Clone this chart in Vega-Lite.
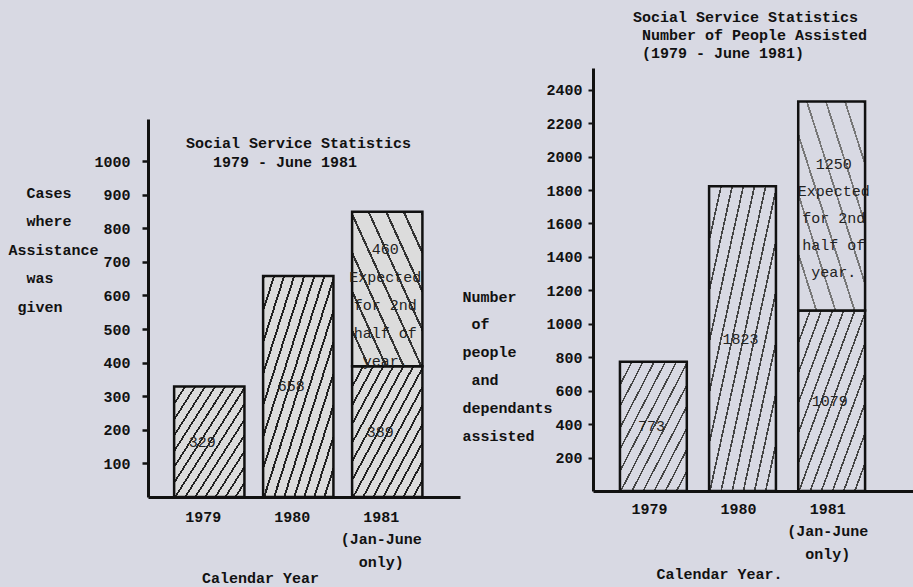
{
  "$schema": "https://vega.github.io/schema/vega-lite/v6.json",
  "padding": {"left": 8, "top": 10, "right": 0, "bottom": 10},
  "background": "#d8d9e3",
  "spacing": 2,
  "datasets": {
    "cases": [
      {"year": "1979", "part": "actual", "value": 329, "label": "329"},
      {"year": "1980", "part": "actual", "value": 658, "label": "658"},
      {"year": "1981", "part": "actual", "value": 389, "label": "389"},
      {"year": "1981", "part": "expected", "value": 460, "label": "460|Expected|for 2nd|half of|year."}
    ],
    "people": [
      {"year": "1979", "part": "actual", "value": 773, "label": "773"},
      {"year": "1980", "part": "actual", "value": 1823, "label": "1823"},
      {"year": "1981", "part": "actual", "value": 1079, "label": "1079"},
      {"year": "1981", "part": "expected", "value": 1250, "label": "1250|Expected|for 2nd|half of|year."}
    ]
  },
  "hconcat": [
    {
      "width": 312,
      "height": 429,
      "title": {
        "text": ["Social Service Statistics", "\u200b\u00a0\u00a0\u00a01979 - June 1981"],
        "anchor": "start",
        "frame": "group",
        "dx": 38,
        "offset": -102,
        "lineHeight": 19
      },
      "data": {"name": "cases"},
      "transform": [
        {"stack": "value", "groupby": ["year"], "sort": [{"field": "part", "order": "ascending"}], "as": ["v0", "v1"]}
      ],
      "encoding": {
        "x": {
          "field": "year",
          "type": "nominal",
          "sort": null,
          "scale": {"paddingInner": 0.21, "paddingOuter": 0.358, "align": 0.41},
          "axis": {
            "title": "Calendar Year",
            "labelAngle": 0,
            "ticks": false,
            "labelPadding": 12,
            "labelOffset": -6,
            "labelLineHeight": 22.5,
            "labelExpr": "datum.value == '1981' ? ['1981', '(Jan-June', 'only)'] : datum.value",
            "titleX": 112,
            "titleY": 80,
            "titleAlign": "center",
            "titleBaseline": "middle"
          }
        },
        "y": {
          "field": "v1",
          "type": "quantitative",
          "scale": {"domain": [0, 1125], "range": [429, 51], "nice": false},
          "axis": {
            "values": [100, 200, 300, 400, 500, 600, 700, 800, 900, 1000],
            "format": "d",
            "tickSize": 6,
            "tickWidth": 2.5,
            "labelPadding": 12,
            "title": ["\u200b\u00a0\u00a0Cases", "\u200b\u00a0\u00a0where", "Assistance", "\u200b\u00a0\u00a0was", "\u200b\u00a0given"],
            "titleAngle": 0,
            "titleAlign": "left",
            "titleBaseline": "top",
            "titleX": -140,
            "titleY": 117,
            "titleLineHeight": 28.5
          }
        }
      },
      "layer": [
        {
          "transform": [{"filter": "datum.part == 'actual'"}],
          "mark": {
            "type": "bar",
            "stroke": "#111",
            "strokeWidth": 2.5,
            "fill": {
              "gradient": "linear", "x1": 0, "y1": 0, "x2": 1, "y2": 1,
              "stops": [
                {"offset": 0, "color": "#222"}, {"offset": 0.0143, "color": "#222"}, {"offset": 0.0143, "color": "#dcdcdc"}, {"offset": 0.0714, "color": "#dcdcdc"},
                {"offset": 0.0714, "color": "#222"}, {"offset": 0.0857, "color": "#222"}, {"offset": 0.0857, "color": "#dcdcdc"}, {"offset": 0.1429, "color": "#dcdcdc"},
                {"offset": 0.1429, "color": "#222"}, {"offset": 0.1571, "color": "#222"}, {"offset": 0.1571, "color": "#dcdcdc"}, {"offset": 0.2143, "color": "#dcdcdc"},
                {"offset": 0.2143, "color": "#222"}, {"offset": 0.2286, "color": "#222"}, {"offset": 0.2286, "color": "#dcdcdc"}, {"offset": 0.2857, "color": "#dcdcdc"},
                {"offset": 0.2857, "color": "#222"}, {"offset": 0.3, "color": "#222"}, {"offset": 0.3, "color": "#dcdcdc"}, {"offset": 0.3571, "color": "#dcdcdc"},
                {"offset": 0.3571, "color": "#222"}, {"offset": 0.3714, "color": "#222"}, {"offset": 0.3714, "color": "#dcdcdc"}, {"offset": 0.4286, "color": "#dcdcdc"},
                {"offset": 0.4286, "color": "#222"}, {"offset": 0.4429, "color": "#222"}, {"offset": 0.4429, "color": "#dcdcdc"}, {"offset": 0.5, "color": "#dcdcdc"},
                {"offset": 0.5, "color": "#222"}, {"offset": 0.5143, "color": "#222"}, {"offset": 0.5143, "color": "#dcdcdc"}, {"offset": 0.5714, "color": "#dcdcdc"},
                {"offset": 0.5714, "color": "#222"}, {"offset": 0.5857, "color": "#222"}, {"offset": 0.5857, "color": "#dcdcdc"}, {"offset": 0.6429, "color": "#dcdcdc"},
                {"offset": 0.6429, "color": "#222"}, {"offset": 0.6571, "color": "#222"}, {"offset": 0.6571, "color": "#dcdcdc"}, {"offset": 0.7143, "color": "#dcdcdc"},
                {"offset": 0.7143, "color": "#222"}, {"offset": 0.7286, "color": "#222"}, {"offset": 0.7286, "color": "#dcdcdc"}, {"offset": 0.7857, "color": "#dcdcdc"},
                {"offset": 0.7857, "color": "#222"}, {"offset": 0.8, "color": "#222"}, {"offset": 0.8, "color": "#dcdcdc"}, {"offset": 0.8571, "color": "#dcdcdc"},
                {"offset": 0.8571, "color": "#222"}, {"offset": 0.8714, "color": "#222"}, {"offset": 0.8714, "color": "#dcdcdc"}, {"offset": 0.9286, "color": "#dcdcdc"},
                {"offset": 0.9286, "color": "#222"}, {"offset": 0.9429, "color": "#222"}, {"offset": 0.9429, "color": "#dcdcdc"}, {"offset": 1, "color": "#dcdcdc"}
              ]
            }
          },
          "encoding": {"y2": {"field": "v0"}}
        },
        {
          "transform": [{"filter": "datum.part == 'expected'"}],
          "mark": {
            "type": "bar",
            "stroke": "#111",
            "strokeWidth": 2.5,
            "fill": {
              "gradient": "linear", "x1": 1, "y1": 0, "x2": 0, "y2": 1,
              "stops": [
                {"offset": 0, "color": "#333"}, {"offset": 0.016, "color": "#333"}, {"offset": 0.016, "color": "#dcdcdc"}, {"offset": 0.125, "color": "#dcdcdc"},
                {"offset": 0.125, "color": "#333"}, {"offset": 0.141, "color": "#333"}, {"offset": 0.141, "color": "#dcdcdc"}, {"offset": 0.25, "color": "#dcdcdc"},
                {"offset": 0.25, "color": "#333"}, {"offset": 0.266, "color": "#333"}, {"offset": 0.266, "color": "#dcdcdc"}, {"offset": 0.375, "color": "#dcdcdc"},
                {"offset": 0.375, "color": "#333"}, {"offset": 0.391, "color": "#333"}, {"offset": 0.391, "color": "#dcdcdc"}, {"offset": 0.5, "color": "#dcdcdc"},
                {"offset": 0.5, "color": "#333"}, {"offset": 0.516, "color": "#333"}, {"offset": 0.516, "color": "#dcdcdc"}, {"offset": 0.625, "color": "#dcdcdc"},
                {"offset": 0.625, "color": "#333"}, {"offset": 0.641, "color": "#333"}, {"offset": 0.641, "color": "#dcdcdc"}, {"offset": 0.75, "color": "#dcdcdc"},
                {"offset": 0.75, "color": "#333"}, {"offset": 0.766, "color": "#333"}, {"offset": 0.766, "color": "#dcdcdc"}, {"offset": 0.875, "color": "#dcdcdc"},
                {"offset": 0.875, "color": "#333"}, {"offset": 0.891, "color": "#333"}, {"offset": 0.891, "color": "#dcdcdc"}, {"offset": 1, "color": "#dcdcdc"}
              ]
            }
          },
          "encoding": {"y2": {"field": "v0"}}
        },
        {
          "transform": [
            {"filter": "datum.part == 'actual'"},
            {"fold": ["v0", "v1"], "as": ["edge", "pos"]},
            {"aggregate": [{"op": "mean", "field": "pos", "as": "mid"}], "groupby": ["year", "part", "label"]}
          ],
          "mark": {
            "type": "text",
            "font": "Liberation Mono",
            "fontSize": 15,
            "color": "#222",
            "dx": -7
          },
          "encoding": {
            "y": {"field": "mid", "type": "quantitative"},
            "text": {"field": "label", "type": "nominal"}
          }
        },
        {
          "transform": [
            {"filter": "datum.part == 'expected'"},
            {"fold": ["v0", "v1"], "as": ["edge", "pos"]},
            {"aggregate": [{"op": "mean", "field": "pos", "as": "mid"}], "groupby": ["year", "part", "label"]}
          ],
          "mark": {
            "type": "text",
            "lineBreak": "|",
            "font": "Liberation Mono",
            "fontSize": 15,
            "color": "#222",
            "dx": -2,
            "dy": -40,
            "lineHeight": 28
          },
          "encoding": {
            "y": {"field": "mid", "type": "quantitative"},
            "text": {"field": "label", "type": "nominal"}
          }
        }
      ]
    },
    {
      "width": 320,
      "height": 423,
      "title": {
        "text": ["Social Service Statistics", "\u200b\u00a0Number of People Assisted", "\u200b\u00a0(1979 - June 1981)"],
        "anchor": "start",
        "frame": "group",
        "dx": 40,
        "offset": 7,
        "lineHeight": 18
      },
      "data": {"name": "people"},
      "transform": [
        {"stack": "value", "groupby": ["year"], "sort": [{"field": "part", "order": "ascending"}], "as": ["v0", "v1"]}
      ],
      "encoding": {
        "x": {
          "field": "year",
          "type": "nominal",
          "sort": null,
          "scale": {"paddingInner": 0.25, "paddingOuter": 0.42, "align": 0.36},
          "axis": {
            "title": "Calendar Year.",
            "labelAngle": 0,
            "ticks": false,
            "labelPadding": 10,
            "labelOffset": -4,
            "labelLineHeight": 22.5,
            "labelExpr": "datum.value == '1981' ? ['1981', '(Jan-June', 'only)'] : datum.value",
            "titleX": 126,
            "titleY": 82,
            "titleAlign": "center",
            "titleBaseline": "middle"
          }
        },
        "y": {
          "field": "v1",
          "type": "quantitative",
          "scale": {"domain": [0, 2530], "nice": false},
          "axis": {
            "values": [200, 400, 600, 800, 1000, 1200, 1400, 1600, 1800, 2000, 2200, 2400],
            "format": "d",
            "tickSize": 5,
            "tickWidth": 2,
            "labelPadding": 6,
            "title": ["Number", "\u200b\u00a0of", "people", "\u200b\u00a0and", "dependants", "assisted"],
            "titleAngle": 0,
            "titleAlign": "left",
            "titleBaseline": "top",
            "titleX": -131,
            "titleY": 221,
            "titleLineHeight": 27.8
          }
        }
      },
      "layer": [
        {
          "transform": [{"filter": "datum.part == 'actual'"}],
          "mark": {
            "type": "bar",
            "stroke": "#111",
            "strokeWidth": 2.5,
            "fill": {
              "gradient": "linear", "x1": 0, "y1": 0, "x2": 1, "y2": 1,
              "stops": [
                {"offset": 0, "color": "#444"}, {"offset": 0.0125, "color": "#444"}, {"offset": 0.0125, "color": "#d8d9e3"}, {"offset": 0.0833, "color": "#d8d9e3"},
                {"offset": 0.0833, "color": "#444"}, {"offset": 0.0958, "color": "#444"}, {"offset": 0.0958, "color": "#d8d9e3"}, {"offset": 0.1667, "color": "#d8d9e3"},
                {"offset": 0.1667, "color": "#444"}, {"offset": 0.1792, "color": "#444"}, {"offset": 0.1792, "color": "#d8d9e3"}, {"offset": 0.25, "color": "#d8d9e3"},
                {"offset": 0.25, "color": "#444"}, {"offset": 0.2625, "color": "#444"}, {"offset": 0.2625, "color": "#d8d9e3"}, {"offset": 0.3333, "color": "#d8d9e3"},
                {"offset": 0.3333, "color": "#444"}, {"offset": 0.3458, "color": "#444"}, {"offset": 0.3458, "color": "#d8d9e3"}, {"offset": 0.4167, "color": "#d8d9e3"},
                {"offset": 0.4167, "color": "#444"}, {"offset": 0.4292, "color": "#444"}, {"offset": 0.4292, "color": "#d8d9e3"}, {"offset": 0.5, "color": "#d8d9e3"},
                {"offset": 0.5, "color": "#444"}, {"offset": 0.5125, "color": "#444"}, {"offset": 0.5125, "color": "#d8d9e3"}, {"offset": 0.5833, "color": "#d8d9e3"},
                {"offset": 0.5833, "color": "#444"}, {"offset": 0.5958, "color": "#444"}, {"offset": 0.5958, "color": "#d8d9e3"}, {"offset": 0.6667, "color": "#d8d9e3"},
                {"offset": 0.6667, "color": "#444"}, {"offset": 0.6792, "color": "#444"}, {"offset": 0.6792, "color": "#d8d9e3"}, {"offset": 0.75, "color": "#d8d9e3"},
                {"offset": 0.75, "color": "#444"}, {"offset": 0.7625, "color": "#444"}, {"offset": 0.7625, "color": "#d8d9e3"}, {"offset": 0.8333, "color": "#d8d9e3"},
                {"offset": 0.8333, "color": "#444"}, {"offset": 0.8458, "color": "#444"}, {"offset": 0.8458, "color": "#d8d9e3"}, {"offset": 0.9167, "color": "#d8d9e3"},
                {"offset": 0.9167, "color": "#444"}, {"offset": 0.9292, "color": "#444"}, {"offset": 0.9292, "color": "#d8d9e3"}, {"offset": 1, "color": "#d8d9e3"}
              ]
            }
          },
          "encoding": {"y2": {"field": "v0"}}
        },
        {
          "transform": [{"filter": "datum.part == 'expected'"}],
          "mark": {
            "type": "bar",
            "stroke": "#111",
            "strokeWidth": 2.5,
            "fill": {
              "gradient": "linear", "x1": 1, "y1": 0, "x2": 0, "y2": 1,
              "stops": [
                {"offset": 0, "color": "#777"}, {"offset": 0.014, "color": "#777"}, {"offset": 0.014, "color": "#d8d9e3"}, {"offset": 0.1429, "color": "#d8d9e3"},
                {"offset": 0.1429, "color": "#777"}, {"offset": 0.1569, "color": "#777"}, {"offset": 0.1569, "color": "#d8d9e3"}, {"offset": 0.2857, "color": "#d8d9e3"},
                {"offset": 0.2857, "color": "#777"}, {"offset": 0.2997, "color": "#777"}, {"offset": 0.2997, "color": "#d8d9e3"}, {"offset": 0.4286, "color": "#d8d9e3"},
                {"offset": 0.4286, "color": "#777"}, {"offset": 0.4426, "color": "#777"}, {"offset": 0.4426, "color": "#d8d9e3"}, {"offset": 0.5714, "color": "#d8d9e3"},
                {"offset": 0.5714, "color": "#777"}, {"offset": 0.5854, "color": "#777"}, {"offset": 0.5854, "color": "#d8d9e3"}, {"offset": 0.7143, "color": "#d8d9e3"},
                {"offset": 0.7143, "color": "#777"}, {"offset": 0.7283, "color": "#777"}, {"offset": 0.7283, "color": "#d8d9e3"}, {"offset": 0.8571, "color": "#d8d9e3"},
                {"offset": 0.8571, "color": "#777"}, {"offset": 0.8711, "color": "#777"}, {"offset": 0.8711, "color": "#d8d9e3"}, {"offset": 1, "color": "#d8d9e3"}
              ]
            }
          },
          "encoding": {"y2": {"field": "v0"}}
        },
        {
          "transform": [
            {"filter": "datum.part == 'actual'"},
            {"fold": ["v0", "v1"], "as": ["edge", "pos"]},
            {"aggregate": [{"op": "mean", "field": "pos", "as": "mid"}], "groupby": ["year", "part", "label"]}
          ],
          "mark": {
            "type": "text",
            "font": "Liberation Mono",
            "fontSize": 15,
            "color": "#222",
            "dx": -2
          },
          "encoding": {
            "y": {"field": "mid", "type": "quantitative"},
            "text": {"field": "label", "type": "nominal"}
          }
        },
        {
          "transform": [
            {"filter": "datum.part == 'expected'"},
            {"fold": ["v0", "v1"], "as": ["edge", "pos"]},
            {"aggregate": [{"op": "mean", "field": "pos", "as": "mid"}], "groupby": ["year", "part", "label"]}
          ],
          "mark": {
            "type": "text",
            "lineBreak": "|",
            "font": "Liberation Mono",
            "fontSize": 15,
            "color": "#222",
            "dx": 2,
            "dy": -42,
            "lineHeight": 27
          },
          "encoding": {
            "y": {"field": "mid", "type": "quantitative"},
            "text": {"field": "label", "type": "nominal"}
          }
        }
      ]
    }
  ],
  "config": {
    "view": {"stroke": null},
    "font": "Liberation Mono",
    "axis": {
      "labelFont": "Liberation Mono",
      "labelFontSize": 15,
      "labelFontWeight": "bold",
      "labelColor": "#111",
      "titleFont": "Liberation Mono",
      "titleFontSize": 15,
      "titleFontWeight": "bold",
      "titleColor": "#111",
      "domainColor": "#111",
      "domainWidth": 3,
      "tickColor": "#111",
      "grid": false
    },
    "title": {
      "font": "Liberation Mono",
      "fontSize": 15,
      "fontWeight": "bold",
      "color": "#111"
    }
  }
}
